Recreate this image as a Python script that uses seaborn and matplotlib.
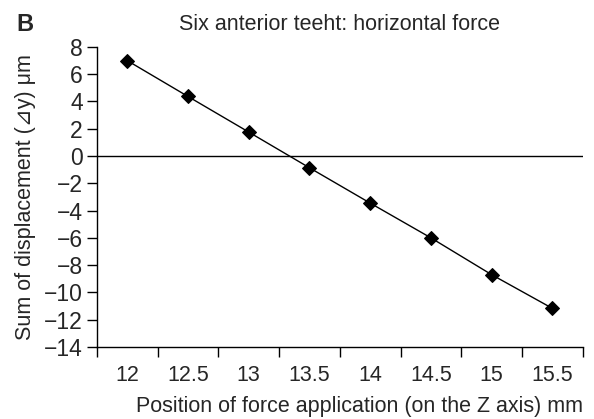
import matplotlib
matplotlib.use("Agg")
import matplotlib.pyplot as plt
import seaborn as sns
import pandas as pd

positions = ["12", "12.5", "13", "13.5", "14", "14.5", "15", "15.5"]
displacement = [7.0, 4.37, 1.76, -0.86, -3.45, -6.0, -8.7, -11.17]
y_ticks = [8, 6, 4, 2, 0, -2, -4, -6, -8, -10, -12, -14]

sns.set_style("ticks")
plt.rcParams["font.family"] = ["Liberation Sans", "DejaVu Sans"]

df = pd.DataFrame({"position": positions, "displacement": displacement})

fig = plt.figure(figsize=(5.94, 4.19), dpi=100)
ax = fig.add_axes([0.163, 0.172, 0.818, 0.716])

sns.pointplot(data=df, x="position", y="displacement", color="black",
              markers="D", markersize=7, linewidth=1, ax=ax, errorbar=None)

ax.axhline(0, color="black", linewidth=1, zorder=0)

ax.set_xlim(-0.5, len(positions) - 0.5)
ax.set_ylim(-14, 8)
ax.set_yticks(y_ticks)
ax.set_yticklabels([str(v).replace("-", "\u2212") for v in y_ticks], fontsize=16.5)

# category boundaries get the tick marks, labels sit between them
ax.set_xticks([i - 0.5 for i in range(len(positions) + 1)])
ax.set_xticklabels([])
ax.set_xticks(range(len(positions)), minor=True)
ax.set_xticklabels(positions, minor=True, fontsize=15.5)
ax.tick_params(axis="x", which="minor", length=0, pad=13)
ax.tick_params(axis="x", which="major", length=7, width=1, color="black")
ax.tick_params(axis="y", length=7, width=1, color="black", pad=3)

for s in ["left", "bottom"]:
    ax.spines[s].set_linewidth(1)
    ax.spines[s].set_color("black")
sns.despine(ax=ax)

ax.set_title("Six anterior teeht: horizontal force", fontsize=15.5, pad=12)
ax.set_xlabel("Position of force application (on the Z axis) mm", fontsize=15.5,
              loc="right", labelpad=7)
ax.set_ylabel("Sum of displacement (\u22bfy) \u03bcm", fontsize=15.5, labelpad=6)
fig.text(0.027, 0.97, "B", fontsize=17, fontweight="bold", va="top", ha="left")

fig.savefig("out.png", dpi=100)
